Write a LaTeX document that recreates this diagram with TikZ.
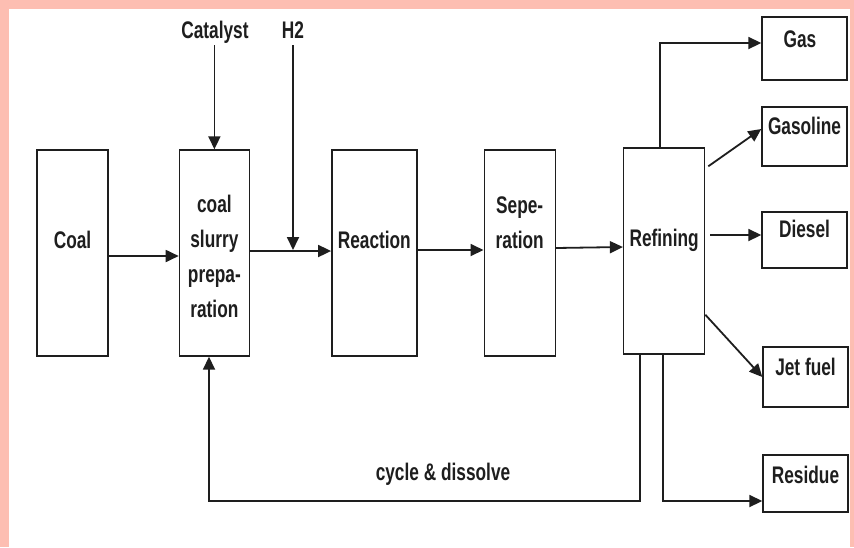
\documentclass[tikz,border=0pt]{standalone}
\usepackage{fontspec}
\setmainfont[FakeStretch=0.72]{Liberation Sans}
\usetikzlibrary{arrows.meta,positioning}
\definecolor{pinkbg}{RGB}{253,190,178}
\definecolor{ink}{RGB}{30,30,30}

\begin{document}
\begin{tikzpicture}[x=1pt,y=-1pt,font=\fontsize{24}{34.7}\selectfont\bfseries,
  box/.style={draw=ink,line width=1.4pt,minimum height=206pt,inner sep=0pt},
  prod/.style={draw=ink,line width=1.4pt,minimum width=85pt,inner sep=0pt},
  txt/.style={anchor=base,align=center,inner sep=0pt,text=ink},
  arr/.style={-{Triangle[length=13pt,width=12pt]},line width=1.8pt,draw=ink}]
% frame
\fill[pinkbg] (0,0) rectangle (854,547);
\fill[white] (9,9) rectangle (850,547);
% process chain
\node[box,minimum width=71pt] (coal) at (72.5,253) {};
\node[box,minimum width=70pt,right=70pt of coal] (slurry) {};
\node[box,minimum width=85pt,right=81pt of slurry] (reaction) {};
\node[box,minimum width=71pt,right=66pt of reaction] (sep) {};
\node[box,minimum width=81pt,right=67pt of sep,yshift=2pt] (refining) {};
\node[txt] (coal-t) at (coal |- 0,248) {Coal};
\node[txt] (slurry-t) at (slurry |- 0,317) {coal\\slurry\\prepa-\\ration};
\node[txt] (reaction-t) at (reaction |- 0,248) {Reaction};
\node[txt] (sep-t) at (sep |- 0,248) {Sepe-\\ration};
\node[txt] (refining-t) at (refining |- 0,246) {Refining};
% products
\node[prod,minimum height=63pt] (gas) at (804.5,48.5) {};
\node[prod,minimum height=59pt] (gasoline) at (804.5,136.5) {};
\node[prod,minimum height=56pt] (diesel) at (804.5,240) {};
\node[prod,minimum height=60pt] (jet) at (805.5,377) {};
\node[prod,minimum height=57pt] (residue) at (805.5,483.5) {};
\node[txt] (gas-t) at (800,47) {Gas};
\node[txt] (gasoline-t) at (gasoline |- 0,134) {Gasoline};
\node[txt] (diesel-t) at (diesel |- 0,237) {Diesel};
\node[txt] (jet-t) at (jet |- 0,375) {Jet fuel};
\node[txt] (residue-t) at (residue |- 0,483) {Residue};
% feeds
\node[txt] (catalyst) at (215,38) {Catalyst};
\node[txt] (h2) at (293,38) {H2};
\node[txt] (cycle) at (443,480) {cycle \& dissolve};
\coordinate (back) at (209,501);

\draw[arr] ([yshift=-7pt]catalyst.base -| slurry.north) -- (slurry.north);
\draw[arr] ([yshift=-7pt]h2.base) -- ([yshift=3pt]h2 |- slurry.east);
\draw[arr] ([yshift=-3pt]coal.east) -- ([yshift=-3pt]slurry.west);
\draw[arr] ([yshift=2pt]slurry.east) -- ([yshift=2pt]reaction.west);
\draw[arr] ([yshift=3pt]reaction.east) -- ([yshift=3pt]sep.west);
\draw[arr] ([yshift=5pt]sep.east) -- ([yshift=4pt]refining.west);
\draw[arr] ([xshift=-24.5pt]refining.south) |- (back) -- (back |- slurry.south);
% refining outputs
\draw[arr] ([xshift=-4.5pt]refining.north) |- ([yshift=5.5pt]gas.west);
\draw[arr] ([xshift=3pt,yshift=-19pt]refining.north east) -- ([yshift=7.5pt]gasoline.west);
\draw[arr] ([xshift=5pt,yshift=5pt]diesel.west -| refining.east) -- ([yshift=5pt]diesel.west);
\draw[arr] ([yshift=40pt]refining.south east) -- (jet.west);
\draw[arr] ([xshift=-1.5pt]refining.south) |- ([yshift=-17.5pt]residue.west);
\end{tikzpicture}
\end{document}
